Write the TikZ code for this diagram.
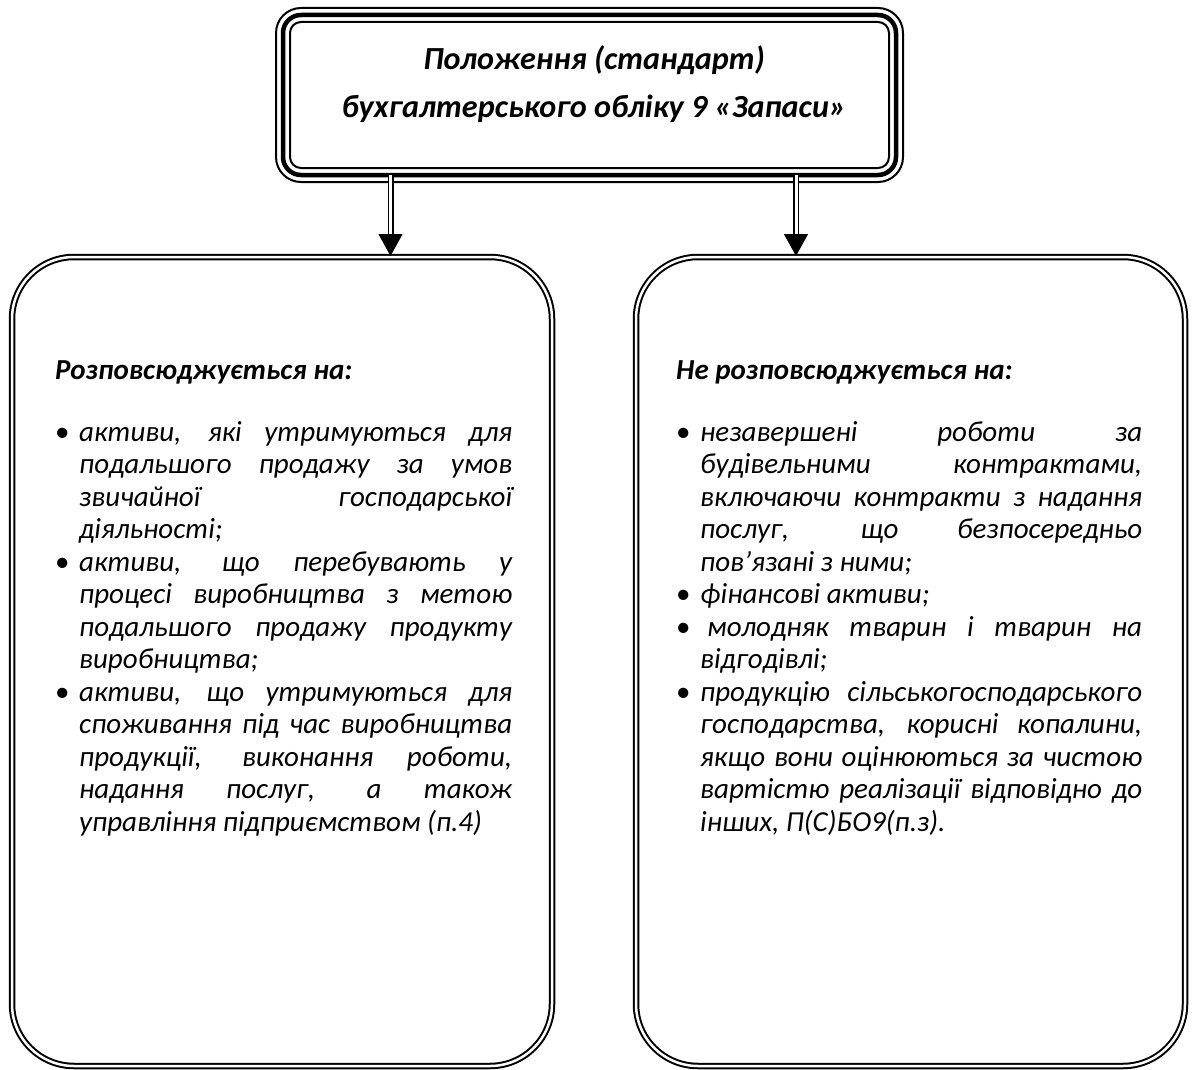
\documentclass[tikz,border=0pt]{standalone}
\usepackage{fontspec}
\setmainfont{Carlito}
\usetikzlibrary{arrows.meta}
\newcommand{\bodyfont}{\fontsize{29}{32.5}\selectfont\itshape}
\newcommand{\itm}[1]{\par\hangindent=24pt\hangafter=1\noindent\makebox[24pt][l]{\upshape\textbullet}#1}
\newcommand{\headln}[1]{{\bfseries #1}\par\vspace{29.5pt}}

\tikzset{
  thickframe/.style={draw, line width=4.5pt, rounded corners=18pt, outer sep=0pt,
    minimum width=613pt, minimum height=160pt},
  thinframe/.style={draw, line width=2pt},
  roundbox/.style={draw, double, line width=2pt, double distance=2.5pt,
    rounded corners=62pt, minimum height=809pt},
  listtext/.style={anchor=base west, inner sep=0pt, align=justify, font=\bodyfont},
  shaft/.style={double, line width=1.5pt, double distance=3pt},
  head/.style={-{Triangle[width=24pt,length=22pt]}, line width=1pt}
}

\begin{document}
\begin{tikzpicture}[x=1pt, y=-1pt]
        \useasboundingbox (0,0) rectangle (1194,1070);

        % top frame
        \node[thickframe] (std) at (589.5,95) {};
        \draw[thinframe, rounded corners=25pt] ([shift={(-7pt,7pt)}]std.north west) rectangle ([shift={(7pt,-7pt)}]std.south east);
        \draw[thinframe, rounded corners=11pt] ([shift={(7pt,-7pt)}]std.north west) rectangle ([shift={(-7pt,7pt)}]std.south east);
        \node[anchor=base, align=center, inner sep=0pt, font=\fontsize{32.2}{48}\selectfont\bfseries\itshape] (stdtext) at (594,118)
            {Положення (стандарт)\\ бухгалтерського обліку 9 «Запаси»};

        % boxes
        \node[roundbox, minimum width=540pt] (incl) at (282,661.5) {};
        \node[roundbox, minimum width=549pt] (excl) at (910.5,661.5) {};

        % arrows
        \coordinate (al) at (390.5,0);
        \coordinate (ar) at (796,0);
        \draw[shaft] (std.south -| al) -- ([yshift=20pt]incl.north -| al);
        \draw[head] ([yshift=22pt]incl.north -| al) -- (incl.north -| al);
        \draw[shaft] (std.south -| ar) -- ([yshift=20pt]excl.north -| ar);
        \draw[head] ([yshift=22pt]excl.north -| ar) -- (excl.north -| ar);

        % left list
        \node[listtext, text width=457pt] (incltext) at (55,379) {%
            \headln{Розповсюджується на:}
            \itm{активи, які утримуються для\linebreak подальшого продажу за умов\linebreak звичайної господарської\linebreak діяльності;}
            \itm{активи, що перебувають у\linebreak процесі виробництва з метою\linebreak подальшого продажу продукту\linebreak виробництва;}
            \itm{активи, що утримуються для\linebreak споживання під час виробництва\linebreak продукції, виконання роботи,\linebreak надання послуг, а також\linebreak управління підприємством (п.4)}\par};

        % right list
        \node[listtext, text width=466pt] (excltext) at (676,379) {%
            \headln{Не розповсюджується на:}
            \itm{незавершені роботи за\linebreak будівельними контрактами,\linebreak включаючи контракти з надання\linebreak послуг, що безпосередньо\linebreak пов’язані з ними;}
            \itm{фінансові активи;}
            \itm{\hspace{7pt}молодняк тварин і тварин на\linebreak відгодівлі;}
            \itm{продукцію сільськогосподарського\linebreak господарства, корисні копалини,\linebreak якщо вони оцінюються за чистою\linebreak вартістю реалізації відповідно до\linebreak інших, П(С)БО9(п.з).}\par};

    \end{tikzpicture}
\end{document}
